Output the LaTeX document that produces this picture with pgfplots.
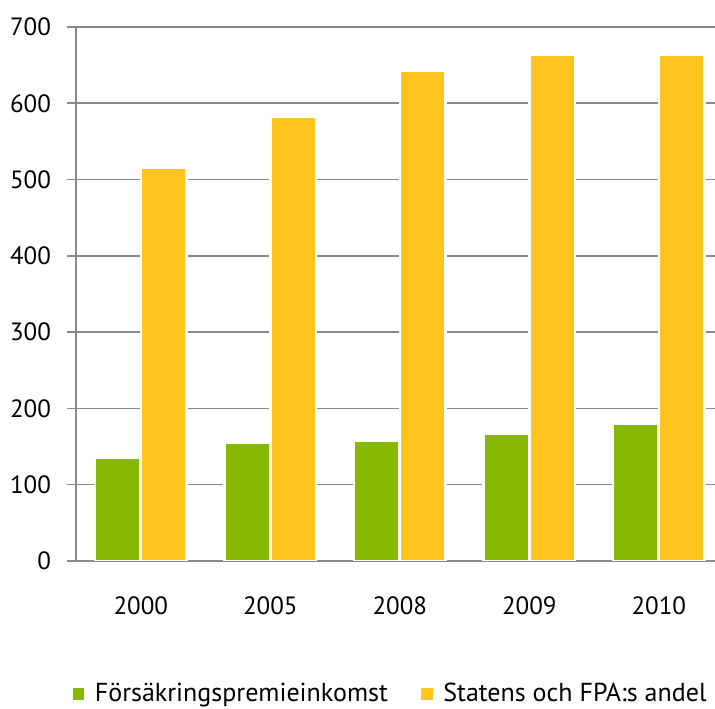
\documentclass[border=0pt]{standalone}
\usepackage{fontspec}
\setmainfont{PT Sans}
\usepackage{pgfplots}
\pgfplotsset{compat=1.18}
\definecolor{premgreen}{RGB}{137,184,0}
\definecolor{stateyellow}{RGB}{255,197,30}
\definecolor{gridgray}{RGB}{137,137,137}

\begin{document}
\begin{tikzpicture}
\begin{axis}[
  name=ax,
  scale only axis,
  width=319.5pt, height=267pt,
  xmin=-0.5, xmax=4.434,
  ymin=0, ymax=700,
  ytick={0,100,...,700},
  xtick={0,1,2,3,4},
  xticklabels={2000,2005,2008,2009,2010},
  axis y line*=left,
  axis x line*=bottom,
  axis line style={gridgray, line width=0.8pt},
  x axis line style={draw=none},
  ymajorgrids,
  grid style={gridgray, line width=0.8pt},
  tick align=outside,
  major tick length=4.5pt,
  ytick style={gridgray, line width=0.8pt},
  xtick style={draw=none},
  /pgf/number format/assume math mode=true,
  tick label style={font=\fontsize{12.5}{15}\selectfont},
  yticklabel style={xshift=-4.5pt},
  xticklabel style={yshift=-10pt},
  ybar,
  legend columns=2,
  legend style={draw=none, fill=none, at={(axis description cs:0,0)}, anchor=north west,
    xshift=-6pt, yshift=-57pt, font=\fontsize{13}{15}\selectfont,
    /tikz/every even column/.append style={column sep=13.5pt}},
  legend image code/.code={\fill[#1] (0pt,-3.5pt) rectangle (7pt,3.5pt); \path (9pt,0pt);},
]
\addplot[bar width=0.351, bar shift=-0.1776, fill=premgreen, draw=white, line width=1.25pt]
  coordinates {(0,135) (1,155) (2,157) (3,167) (4,180)};
\addplot[bar width=0.351, bar shift=0.1776, fill=stateyellow, draw=white, line width=1.25pt]
  coordinates {(0,515) (1,582) (2,642) (3,664) (4,663)};
\legend{Försäkringspremieinkomst, Statens och FPA:s andel}
\end{axis}
\pgfresetboundingbox
\path ([xshift=-38pt,yshift=-74pt]ax.south west) rectangle ([yshift=13.5pt]ax.north east);
\end{tikzpicture}
\end{document}
